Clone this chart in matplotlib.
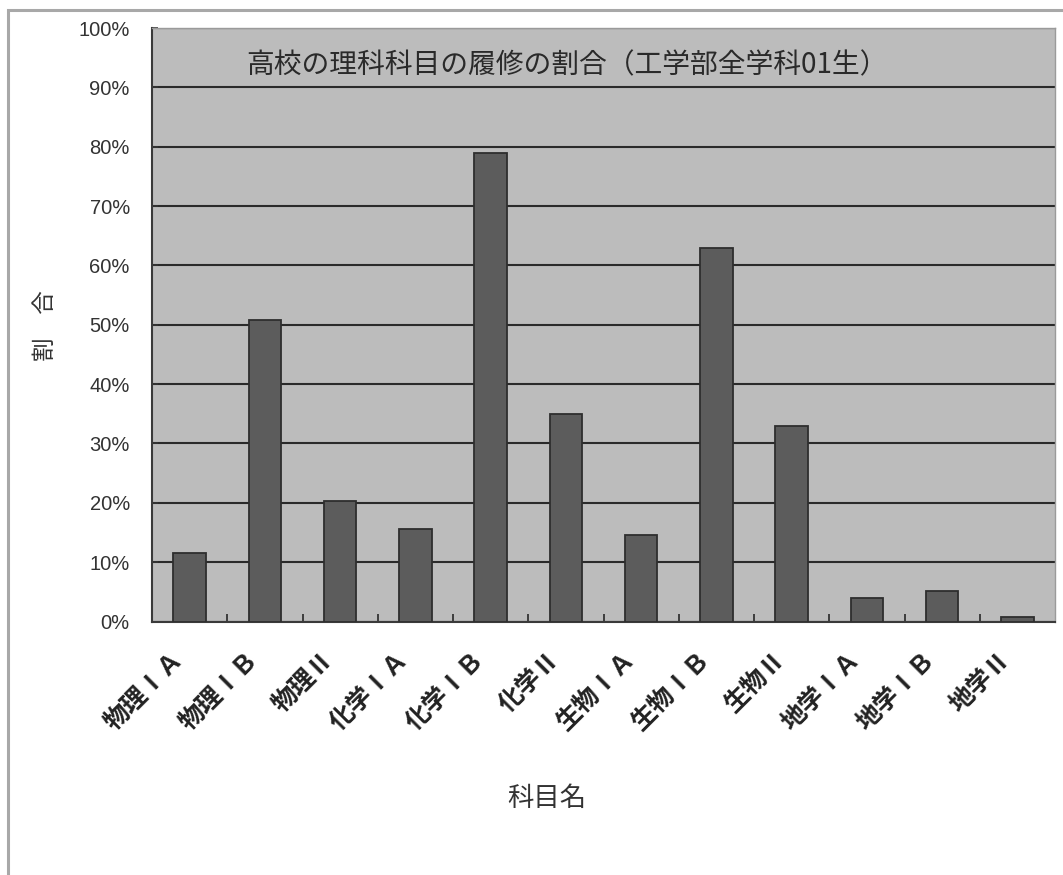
import matplotlib
matplotlib.use("Agg")
import matplotlib.pyplot as plt
from matplotlib.patches import Rectangle
from matplotlib.ticker import FixedLocator, PercentFormatter
from matplotlib.transforms import ScaledTranslation
import numpy as np

plt.rcParams['font.family'] = ['Noto Sans CJK JP', 'DejaVu Sans']

## data

subjects = ["物理ⅠＡ", "物理ⅠＢ", "物理Ⅱ", "化学ⅠＡ", "化学ⅠＢ", "化学Ⅱ",
            "生物ⅠＡ", "生物ⅠＢ", "生物Ⅱ", "地学ⅠＡ", "地学ⅠＢ", "地学Ⅱ"]
ratio = [11.5, 50.8, 20.3, 15.6, 79.0, 34.9, 14.6, 63.0, 33.0, 3.9, 5.1, 0.8]
yticks = [0, 10, 20, 30, 40, 50, 60, 70, 80, 90, 100]

## plotting

fig = plt.figure(figsize=(10.63, 8.75), dpi=100)
ax = fig.add_axes([0.143, 0.2897, 0.8495, 0.6783])

# outer chart frame
fig.patches.append(Rectangle((8/1063, -0.05), 1.2, 1 - 10/875 + 0.05,
                             transform=fig.transFigure, fill=False,
                             edgecolor='#a8a8a8', linewidth=2.2, zorder=0))

x = np.arange(len(subjects))
ax.set_facecolor('#bcbcbc')
ax.bar(x, ratio, width=0.43, color='#5c5c5c', edgecolor='#2e2e2e',
       linewidth=1.3, zorder=3)

ax.set_xlim(-0.5, len(subjects) - 0.5)
ax.set_ylim(0, 100)
ax.set_yticks(yticks)
ax.yaxis.set_major_formatter(PercentFormatter(decimals=0))
ax.yaxis.grid(True, color='#2a2a2a', linewidth=1.5, zorder=1)
ax.set_axisbelow(True)

# slanted category labels, hung a bit below and left of each bar
ax.set_xticks(x)
ax.set_xticklabels([])
label_tr = ax.get_xaxis_transform() + ScaledTranslation(-0.10, -0.34, fig.dpi_scale_trans)
for xi, name in zip(x, subjects):
    ax.text(xi, 0, name, transform=label_tr, rotation=45, ha='right',
            va='center', rotation_mode='anchor', fontsize=18,
            fontweight='bold', color='#222222', clip_on=False)

ax.xaxis.set_minor_locator(FixedLocator(np.arange(0.5, len(subjects) - 0.5, 1)))
ax.tick_params(axis='x', which='major', length=0)
ax.tick_params(axis='x', which='minor', direction='in', length=6,
               width=1.3, color='#333333')
ax.tick_params(axis='y', direction='in', length=4, width=1.2,
               color='#333333', labelsize=14.5, labelcolor='#333333', pad=16)
for lab in ax.get_yticklabels():
    lab.set_family(['Liberation Sans', 'DejaVu Sans'])

for side in ['left', 'bottom']:
    ax.spines[side].set_color('#3a3a3a')
    ax.spines[side].set_linewidth(1.5)
for side in ['top', 'right']:
    ax.spines[side].set_color('#9a9a9a')
    ax.spines[side].set_linewidth(1.0)

ax.text(0.46, 0.937, "高校の理科科目の履修の割合（工学部全学科01生）",
        transform=ax.transAxes, ha='center', va='center',
        fontsize=20, color='#2a2a2a')

fig.text(45/1063, 1 - 326/875, "割　合", rotation=90, ha='center',
         va='center', fontsize=17, color='#333333')
fig.text(547/1063, 1 - 798/875, "科目名", ha='center', va='center',
         fontsize=19, color='#333333')

plt.savefig("out.png", dpi=100)
